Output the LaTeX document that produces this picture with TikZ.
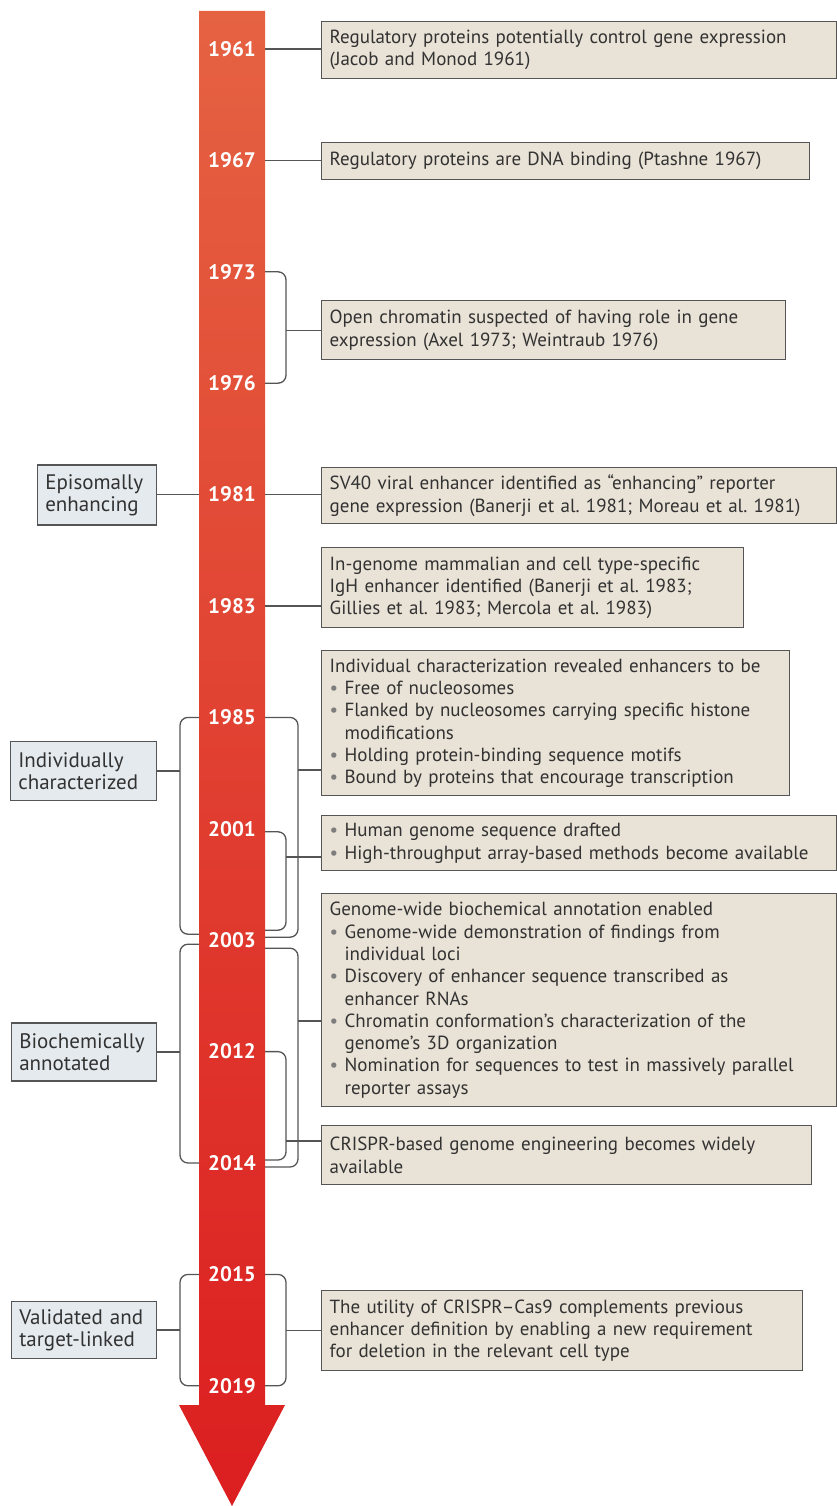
\documentclass[tikz,border=0pt]{standalone}
\usepackage{fontspec}
\setmainfont{PT Sans}
\usetikzlibrary{calc}

\definecolor{barTop}{RGB}{229,98,66}
\definecolor{barBot}{RGB}{220,30,32}
\definecolor{frame}{RGB}{85,85,85}
\definecolor{sand}{RGB}{233,226,214}
\definecolor{mist}{RGB}{228,234,238}
\definecolor{ink}{RGB}{50,50,50}
\definecolor{dotgray}{RGB}{125,125,125}

\newcommand\fs{\fontsize{19}{22.3}\selectfont}
\newcommand\efs{\fontsize{21}{22}\selectfont}
\newcommand\yfs{\fontsize{21}{24}\selectfont}
\newcommand\bul{{\color{dotgray}\textbullet}\ }
\newcommand\hang{\hphantom{\textbullet\ }}
\frenchspacing

\begin{document}
\begin{tikzpicture}[x=1pt,y=-1pt,
  event/.style={draw=frame, fill=sand, line width=1.4pt, inner xsep=8pt,
    inner ysep=0pt, align=left, anchor=north west, font=\fs, text=ink},
  era/.style={draw=frame, fill=mist, line width=1.4pt, inner xsep=8pt,
    inner ysep=0pt, align=left, anchor=east, font=\efs, text=ink},
  year/.style={text=white, font=\yfs\bfseries},
  link/.style={draw=frame, line width=1.3pt},
  bracket/.style={link, rounded corners=8pt}]
\useasboundingbox (0,0) rectangle (837,1506);

% timeline arrow
\shade[top color=barTop, bottom color=barBot] (199,11) -- (265,11) -- (265,1405)
  -- (285,1405) -- (232,1506) -- (179,1405) -- (199,1405) -- cycle;
\foreach \yr [count=\i from 0] in {1961,1967,1973,1976,1981,1983,1985,2001,2003,2012,2014,2015,2019}
  \node[year] (y\yr) at (232,49+111.4*\i) {\yr};

\coordinate (barL) at (199,0);
\coordinate (barR) at (265,0);
\coordinate (rin) at (286,0);
\coordinate (rout) at (298,0);
\coordinate (lout) at (180,0);

% findings
\node[event, text width=499pt, minimum height=57pt] (e1961) at (321,21)
  {Regulatory proteins potentially control gene expression\\(Jacob and Monod 1961)};
\node[event, text width=472pt, minimum height=37pt] (e1967) at (321,142)
  {Regulatory proteins are DNA binding (Ptashne 1967)};
\node[event, text width=448pt, minimum height=59pt] (e1973) at (321,300)
  {Open chromatin suspected of having role in gene\\expression (Axel 1973; Weintraub 1976)};
\node[event, text width=499pt, minimum height=56pt] (e1981) at (321,467)
  {SV40 viral enhancer identified as “enhancing” reporter\\gene expression (Banerji et al. 1981; Moreau et al. 1981)};
\node[event, text width=406pt, minimum height=80pt] (e1983) at (321,547)
  {In-genome mammalian and cell type-specific\\IgH enhancer identified (Banerji et al. 1983;\\Gillies et al. 1983; Mercola et al. 1983)};
\node[event, text width=452pt, minimum height=145pt] (e1985) at (321,650)
  {Individual characterization revealed enhancers to be\\
   \bul Free of nucleosomes\\
   \bul Flanked by nucleosomes carrying specific histone\\
   \hang modifications\\
   \bul Holding protein-binding sequence motifs\\
   \bul Bound by proteins that encourage transcription};
\node[event, text width=499pt, minimum height=55pt] (e2001) at (321,815)
  {\bul Human genome sequence drafted\\
   \bul High-throughput array-based methods become available};
\node[event, text width=499pt, minimum height=213pt] (e2003) at (321,893)
  {Genome-wide biochemical annotation enabled\\
   \bul Genome-wide demonstration of findings from\\
   \hang individual loci\\
   \bul Discovery of enhancer sequence transcribed as\\
   \hang enhancer RNAs\\
   \bul Chromatin conformation's characterization of the\\
   \hang genome's 3D organization\\
   \bul Nomination for sequences to test in massively parallel\\
   \hang reporter assays};
\node[event, text width=474pt, minimum height=59pt] (e2012) at (321,1125)
  {CRISPR-based genome engineering becomes widely\\available};
\node[event, text width=465pt, minimum height=80pt] (e2015) at (321,1290)
  {The utility of CRISPR–Cas9 complements previous\\enhancer definition by enabling a new requirement\\for deletion in the relevant cell type};

% eras
\node[era, text width=103pt, minimum height=60pt] (c1981) at (157,495) {Episomally\\enhancing};
\node[era, text width=130pt, minimum height=59pt] (c1985) at (157,771) {Individually\\characterized};
\node[era, text width=129pt, minimum height=58pt] (c2003) at (157,1052) {Biochemically\\annotated};
\node[era, text width=129pt, minimum height=57pt] (c2015) at (157,1330) {Validated and\\target-linked};

% single years
\draw[link] (y1961 -| barR) -- (y1961 -| e1961.west);
\draw[link] (y1967 -| barR) -- (y1967 -| e1967.west);
\draw[link] (y1981 -| barR) -- (y1981 -| e1981.west);
\draw[link] (y1981 -| c1981.east) -- (y1981 -| barL);
\draw[link] (y1983 -| barR) -- (y1983 -| e1983.west);

% 1973--1976
\draw[bracket] (y1973 -| barR) -| (y1976 -| rin) -- (y1976 -| barR);
\draw[link] (e1973.west) -- (e1973.west -| rin);

% 1985--2003
\draw[bracket] (y1985 -| barR) -| ($(y2003 -| rout)+(0,-3)$) -- ($(y2003 -| barR)+(0,-3)$);
\draw[bracket] ($(y2001 -| barR)+(0,3)$) -| ($(y2003 -| rin)+(0,-10)$) -- ($(y2003 -| barR)+(0,-10)$);
\draw[bracket] (y1985 -| barL) -| ($(y2003 -| lout)+(0,-6)$) -- ($(y2003 -| barL)+(0,-6)$);
\coordinate (m1985) at (298,770);
\coordinate (m2001) at (286,857);
\draw[link] (m1985) -- (m1985 -| e1985.west);
\draw[link] (m2001) -- (m2001 -| e2001.west);
\draw[link] (c1985.east) -- (c1985.east -| lout);

% 2003--2014
\draw[bracket] ($(y2003 -| barR)+(0,8)$) -| ($(y2014 -| rout)+(0,4)$) -- ($(y2014 -| barR)+(0,4)$);
\draw[bracket] (y2012 -| barR) -| ($(y2014 -| rin)+(0,-3)$) -- ($(y2014 -| barR)+(0,-3)$);
\draw[bracket] ($(y2003 -| barL)+(0,4)$) -| (y2014 -| lout) -- (y2014 -| barL);
\coordinate (m2003) at (298,1021);
\coordinate (m2012) at (286,1141);
\draw[link] (m2003) -- (m2003 -| e2003.west);
\draw[link] (m2012) -- (m2012 -| e2012.west);
\draw[link] (c2003.east) -- (c2003.east -| lout);

% 2015--2019
\draw[bracket] (y2015 -| barR) -| (y2019 -| rin) -- (y2019 -| barR);
\draw[bracket] (y2015 -| barL) -| (y2019 -| lout) -- (y2019 -| barL);
\draw[link] (e2015.west) -- (e2015.west -| rin);
\draw[link] (c2015.east) -- (c2015.east -| lout);
\end{tikzpicture}
\end{document}
